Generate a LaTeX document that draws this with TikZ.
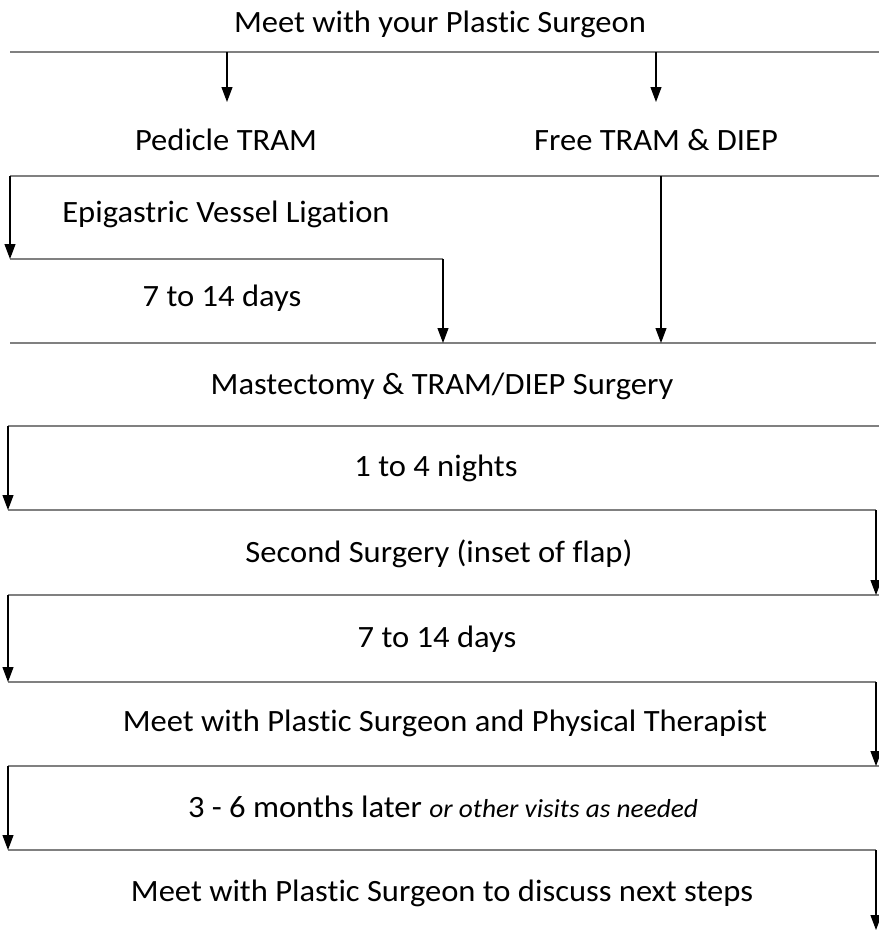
\documentclass[tikz,border=0pt]{standalone}
\usepackage{fontspec}
\setmainfont{Carlito}[FakeStretch=1.05, Ligatures={NoCommon}]
\usetikzlibrary{arrows.meta}
\definecolor{rulegray}{HTML}{808080}
\tikzset{
  lbl/.style={font=\fontsize{31}{36}\selectfont, inner sep=0pt, anchor=center},
  rule/.style={draw=rulegray, line width=1.8pt},
  flow/.style={draw=black, line width=1.1pt, -{Triangle[length=15pt,width=11pt]}},
}
\begin{document}
\begin{tikzpicture}[x=1pt,y=-1pt]
\useasboundingbox (0,0) rectangle (879,930);
% texts
\node[lbl] (t0) at (440,24) {Meet with your Plastic Surgeon};
\node[lbl] (ped) at (226,140) {Pedicle TRAM};
\node[lbl] (free) at (656,140) {Free TRAM \& DIEP};
\node[lbl] (epi) at (226,214) {Epigastric Vessel Ligation};
\node[lbl] (d1) at (222,298) {7 to 14 days};
\node[lbl] (mast) at (442,386) {Mastectomy \& TRAM/DIEP Surgery};
\node[lbl] (n1) at (436,468) {1 to 4 nights};
\node[lbl] (sec) at (439,554) {Second Surgery (inset of flap)};
\node[lbl] (d2) at (437,639) {7 to 14 days};
\node[lbl] (pt) at (445,723) {Meet with Plastic Surgeon and Physical Therapist};
\node[lbl] (mo) at (443,807) {3 - 6 months later {\fontsize{26}{30}\selectfont\itshape or other visits as needed}};
\node[lbl] (nx) at (442,893) {Meet with Plastic Surgeon to discuss next steps};
% rule coordinates
\coordinate (r1a) at (10,52);  \coordinate (r1b) at (879,52);
\coordinate (r2a) at (10,176); \coordinate (r2b) at (879,176);
\coordinate (r3a) at (10,259); \coordinate (r3b) at (443,259);
\coordinate (r4a) at (10,343); \coordinate (r4b) at (876,343);
\coordinate (r5a) at (8,426);  \coordinate (r5b) at (879,426);
\coordinate (r6a) at (8,510);  \coordinate (r6b) at (876,510);
\coordinate (r7a) at (8,595);  \coordinate (r7b) at (879,595);
\coordinate (r8a) at (8,682);  \coordinate (r8b) at (876,682);
\coordinate (r9a) at (8,766);  \coordinate (r9b) at (879,766);
\coordinate (r10a) at (8,850); \coordinate (r10b) at (876,850);
\foreach \i in {1,...,10} \draw[rule] (r\i a) -- (r\i b);
% arrow end points
\coordinate (a1s) at (227,52);  \coordinate (a1e) at (227,102);
\coordinate (a2s) at (656,52);  \coordinate (a2e) at (656,102);
\coordinate (a4s) at (661,176); \coordinate (a4e) at (661,343);
\coordinate (a5e) at (443,343);
\coordinate (a7e) at (876,595);
\coordinate (a9e) at (876,766);
\coordinate (a11s) at (876,850); \coordinate (a11e) at (876,930);
\draw[flow] (a1s) -- (a1e);
\draw[flow] (a2s) -- (a2e);
\draw[flow] (r2a) -- (r3a);
\draw[flow] (a4s) -- (a4e);
\draw[flow] (r3b) -- (a5e);
\draw[flow] (r5a) -- (r6a);
\draw[flow] (r6b) -- (a7e);
\draw[flow] (r7a) -- (r8a);
\draw[flow] (r8b) -- (a9e);
\draw[flow] (r9a) -- (r10a);
\draw[flow] (a11s) -- (a11e);
\end{tikzpicture}
\end{document}
